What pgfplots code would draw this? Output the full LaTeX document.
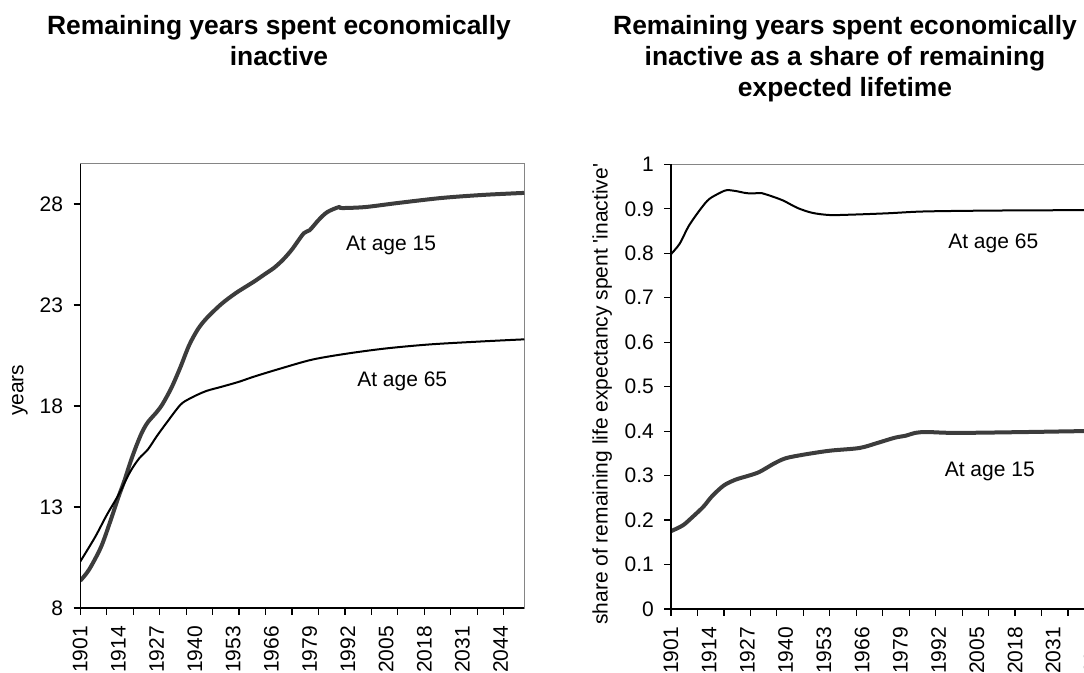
\documentclass[border=0pt]{standalone}
\usepackage{fontspec}
\setmainfont{Liberation Sans}
\usepackage{pgfplots}
\pgfplotsset{compat=1.18}

\definecolor{frameGray}{HTML}{858585}
\definecolor{lineAge15}{HTML}{3C3C3C}

\newcommand{\tickfont}{\fontsize{15.75pt}{18pt}\selectfont}
\newcommand{\titlefont}{\fontsize{19.8pt}{23.6pt}\selectfont\bfseries}

\tikzset{
  age15/.style={lineAge15, line width=3pt, smooth},
  age65/.style={black, line width=1.5pt, smooth},
}

\pgfplotsset{
  panel/.style={
    scale only axis, width=333pt, height=333.3pt,
    anchor=south west,
    xmin=1901, xmax=2052,
    xtick={1901,1914,...,2044},
    minor xtick={1901,1910,...,2045},
    xtick pos=bottom, ytick pos=left,
    tick align=outside,
    major tick length=4.9pt, minor tick length=4.9pt,
    tick style={black, line width=0.9pt},
    major x tick style={draw=none},
    axis line style={frameGray, line width=1.1pt},
    tick label style={font=\tickfont, /pgf/number format/assume math mode=true},
    xticklabel style={rotate=90, anchor=east, inner xsep=8.6pt, /pgf/number format/1000 sep={}},
    yticklabel style={inner xsep=7.8pt, /pgf/number format/fixed},
    every axis y label/.style={font=\tickfont, rotate=90, anchor=center},
    after end axis/.code={\draw[black, line width=1pt] (rel axis cs:0,1) -- (rel axis cs:0,0) -- (rel axis cs:1,0);},
    every axis plot/.append style={no markers},
  },
}

\begin{document}
\begin{tikzpicture}
\useasboundingbox (0,0) rectangle (813pt,504pt);
\clip (0,0) rectangle (813pt,504pt);

% titles
\node[font=\titlefont, anchor=base] at (209.25pt,478.2pt) {Remaining years spent economically};
\node[font=\titlefont, anchor=base] at (209.25pt,454.9pt) {inactive};
\node[font=\titlefont, anchor=base] at (633.75pt,478.2pt) {Remaining years spent economically};
\node[font=\titlefont, anchor=base] at (633.75pt,454.9pt) {inactive as a share of remaining};
\node[font=\titlefont, anchor=base] at (633.75pt,431.25pt) {expected lifetime};

% left: years
\begin{axis}[
  panel, at={(60.2pt,48pt)},
  ymin=8, ymax=30, ytick={8,13,18,23,28},
  ylabel={years},
  ylabel style={at={(axis description cs:-0.136,0.49)}},
]
\addplot[age15] coordinates {
  (1901,9.35)(1904,9.9)(1908,11.0)(1911,12.2)(1914,13.5)(1916,14.3)(1918,15.2)
  (1920,16.0)(1922,16.7)(1924,17.2)(1927,17.7)(1929,18.1)(1932,18.9)(1935,19.9)(1938,21.0)
  (1941,21.8)(1944,22.35)(1949,23.05)(1954,23.6)(1960,24.15)(1964,24.55)(1967,24.85)
  (1970,25.25)(1973,25.75)(1977,26.55)(1979,26.7)(1982,27.2)(1985,27.6)(1989,27.85)
  (1990,27.8)(1998,27.85)(2009,28.05)(2024,28.3)(2038,28.45)(2052,28.55)
};
\addplot[age65] coordinates {
  (1901,10.3)(1906,11.5)(1910,12.6)(1914,13.6)(1918,14.75)(1921,15.4)(1924,15.85)
  (1927,16.5)(1930,17.1)(1935,18.05)(1938,18.35)(1940,18.5)(1944,18.75)(1949,18.95)
  (1955,19.2)(1960,19.45)(1969,19.85)(1980,20.3)(1992,20.6)(2005,20.85)(2020,21.05)
  (2038,21.2)(2052,21.3)
};
\node[font=\tickfont] at (axis cs:2006.7,25.97) {At age 15};
\node[font=\tickfont] at (axis cs:2010.5,19.2) {At age 65};
\end{axis}

% right: share of remaining lifetime
\begin{axis}[
  panel, at={(503.25pt,47.25pt)}, height=333.5pt,
  ymin=0, ymax=1, ytick={0,0.1,0.2,0.3,0.4,0.5,0.6,0.7,0.8,0.9,1},
  ylabel={share of remaining life expectancy spent \textquotesingle inactive\textquotesingle},
  ylabel style={at={(axis description cs:-0.155,0.483)}},
]
\addplot[age65] coordinates {
  (1901,0.798)(1904,0.822)(1907,0.861)(1911,0.899)(1914,0.922)(1918,0.937)(1920,0.942)
  (1923,0.940)(1927,0.935)(1932,0.935)(1934,0.931)(1939,0.919)(1944,0.902)(1949,0.891)
  (1955,0.886)(1963,0.887)(1975,0.890)(1987,0.894)(2010,0.896)(2041,0.897)(2052,0.897)
};
\addplot[age15] coordinates {
  (1901,0.175)(1905,0.188)(1908,0.205)(1912,0.230)(1915,0.254)(1919,0.278)(1923,0.291)
  (1927,0.299)(1931,0.308)(1936,0.327)(1940,0.339)(1946,0.347)(1955,0.356)(1965,0.362)
  (1971,0.373)(1977,0.385)(1981,0.390)(1984,0.396)(1988,0.398)(1998,0.396)(2022,0.398)
  (2041,0.400)(2052,0.400)
};
\node[font=\tickfont] at (axis cs:2010.6,0.822) {At age 65};
\node[font=\tickfont] at (axis cs:2009.4,0.31) {At age 15};
\end{axis}
\end{tikzpicture}
\end{document}
